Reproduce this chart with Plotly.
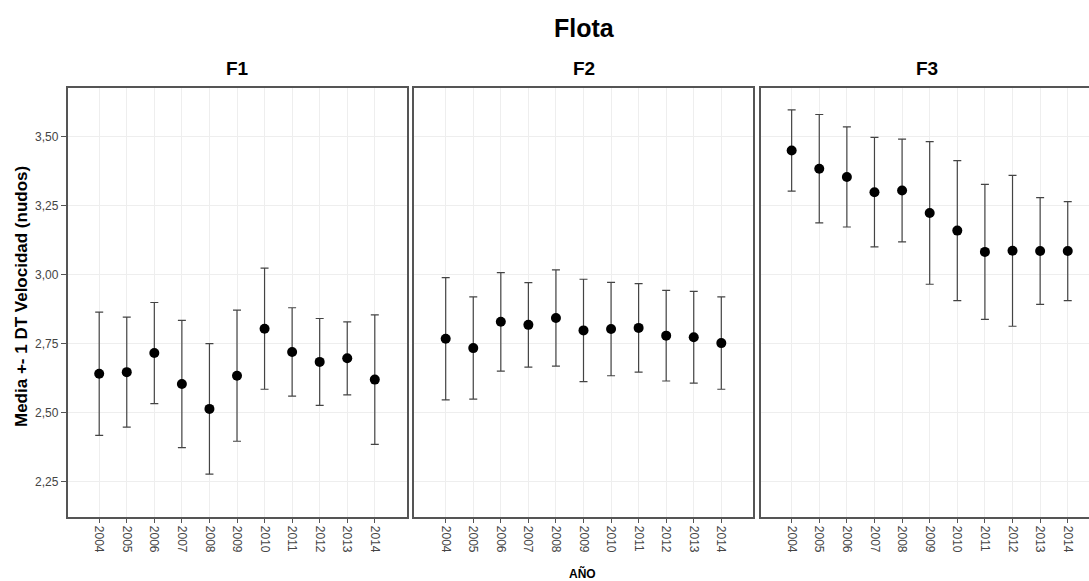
import plotly.graph_objects as go

years = [2004, 2005, 2006, 2007, 2008, 2009, 2010, 2011, 2012, 2013, 2014]
year_labels = [str(y) for y in years]
panels = ["F1", "F2", "F3"]

f1_mean = [2.641, 2.647, 2.716, 2.604, 2.514, 2.634, 2.804, 2.720, 2.684, 2.697, 2.620]
f1_sd   = [0.223, 0.199, 0.183, 0.230, 0.236, 0.237, 0.219, 0.160, 0.157, 0.132, 0.234]
f2_mean = [2.768, 2.734, 2.829, 2.818, 2.843, 2.798, 2.803, 2.807, 2.779, 2.773, 2.752]
f2_sd   = [0.221, 0.185, 0.178, 0.153, 0.174, 0.185, 0.169, 0.160, 0.164, 0.166, 0.167]
f3_mean = [3.449, 3.383, 3.353, 3.298, 3.304, 3.223, 3.159, 3.082, 3.086, 3.085, 3.085]
f3_sd   = [0.147, 0.196, 0.181, 0.198, 0.186, 0.258, 0.253, 0.244, 0.273, 0.193, 0.179]

y_ticks = [2.25, 2.50, 2.75, 3.00, 3.25, 3.50]

means = [f1_mean, f2_mean, f3_mean]
sds = [f1_sd, f2_sd, f3_sd]

W, H = 1089, 581
fig = go.Figure()

x_domains = [[67.5 / W, 406.5 / W], [414 / W, 753 / W], [761 / W, 1.0]]
x_ranges = [[2002.85, 2015.15], [2002.85, 2015.15], [2002.89, 2014.77]]
y_domain = [1 - 516.7 / H, 1 - 87.7 / H]
y_range = [2.124, 3.676]

border = "#555555"
grid = "#eeeeee"
tickfont = dict(family="Liberation Sans, Arial", size=12, color="#444444")

for i in range(3):
    sfx = "" if i == 0 else str(i + 1)
    fig.add_trace(go.Scatter(
        x=years, y=means[i],
        mode="markers",
        marker=dict(color="black", size=10),
        error_y=dict(type="data", array=sds[i], visible=True,
                     color="#444444", thickness=1.2, width=4),
        xaxis="x" + sfx, yaxis="y" + sfx,
        showlegend=False,
    ))
    fig.layout["xaxis" + sfx] = dict(
        domain=x_domains[i], range=x_ranges[i], anchor="y" + sfx,
        tickmode="array", tickvals=years, ticktext=year_labels,
        tickangle=90, ticks="outside", ticklen=5, tickcolor=border,
        tickfont=tickfont,
        showgrid=True, gridcolor=grid, gridwidth=1,
        showline=True, linecolor=border, linewidth=1.5, mirror=True,
        zeroline=False, automargin=False, fixedrange=True,
    )
    fig.layout["yaxis" + sfx] = dict(
        domain=y_domain, range=y_range, anchor="x" + sfx,
        tickmode="array", tickvals=y_ticks,
        tickformat=".2f",
        ticks="outside" if i == 0 else "", ticklen=5, tickcolor=border,
        showticklabels=(i == 0),
        tickfont=tickfont,
        showgrid=True, gridcolor=grid, gridwidth=1,
        showline=True, linecolor=border, linewidth=1.5, mirror=(i < 2),
        zeroline=False, automargin=False, fixedrange=True,
    )

annotations = [
    dict(text="<b>Flota</b>", x=584 / W, y=1 - 28 / H, xref="paper", yref="paper",
         showarrow=False, font=dict(family="Liberation Sans, Arial", size=25, color="black"),
         xanchor="center", yanchor="middle"),
    dict(text="<b>Media +- 1 DT Velocidad (nudos)</b>", x=21 / W, y=1 - 297 / H,
         xref="paper", yref="paper", showarrow=False, textangle=-90,
         font=dict(family="Liberation Sans, Arial", size=17, color="black"),
         xanchor="center", yanchor="middle"),
    dict(text="<b>AÑO</b>", x=582 / W, y=1 - 573 / H, xref="paper", yref="paper",
         showarrow=False, font=dict(family="Liberation Sans, Arial", size=12, color="black"),
         xanchor="center", yanchor="middle"),
]
strip_x = [237, 584, 927]
for name, sx in zip(panels, strip_x):
    annotations.append(dict(
        text="<b>" + name + "</b>", x=sx / W, y=1 - 69 / H, xref="paper", yref="paper",
        showarrow=False, font=dict(family="Liberation Sans, Arial", size=19, color="black"),
        xanchor="center", yanchor="middle"))

fig.update_layout(
    width=W, height=H,
    margin=dict(l=0, r=0, t=0, b=0),
    paper_bgcolor="white", plot_bgcolor="white",
    separators=",.",
    annotations=annotations,
    showlegend=False,
)

fig.write_html("out.html")
